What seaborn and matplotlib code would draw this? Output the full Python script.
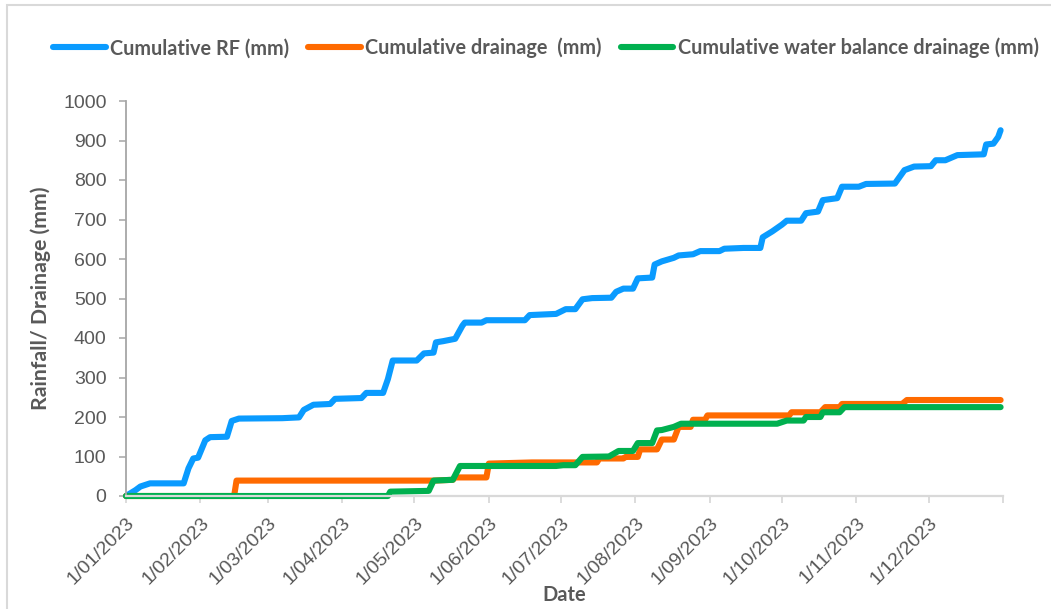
import numpy as np
import pandas as pd
import seaborn as sns
import matplotlib.pyplot as plt
from matplotlib.lines import Line2D
from matplotlib.patches import Rectangle

# day offsets from 1 Jan 2023 and cumulative values (mm)
rf_day = [0, 4, 6, 10, 24, 26, 28, 30, 33, 35, 42, 44, 47, 65, 72, 74, 78, 85, 87, 98,
          100, 107, 109, 111, 121, 124, 128, 129, 132, 137, 140, 141, 148, 150, 166, 168,
          179, 183, 187, 190, 194, 202, 204, 207, 211, 213, 219, 220, 223, 228, 230, 236,
          239, 247, 249, 257, 264, 265, 269, 273, 275, 281, 283, 288, 290, 296, 298, 305,
          308, 320, 322, 324, 328, 335, 337, 341, 346, 357, 358, 361, 363, 364]
rf_mm = [0, 15, 24, 32, 32, 70, 95, 97, 141, 149, 150, 190, 196, 197, 199, 218, 231, 233, 246, 248,
         261, 261, 296, 343, 343, 361, 363, 389, 392, 398, 431, 439, 439, 445, 445, 458,
         461, 473, 473, 498, 501, 502, 517, 525, 525, 551, 553, 586, 594, 603, 609, 612,
         620, 620, 626, 628, 628, 655, 670, 687, 697, 697, 716, 720, 749, 754, 783, 783,
         790, 791, 808, 825, 834, 835, 850, 850, 863, 865, 890, 892, 909, 926]

drain_day = [0, 45, 46, 128, 136, 137, 150, 151, 169, 196, 197, 207, 208, 213, 214, 221, 223,
             228, 230, 235, 236, 241, 242, 276, 277, 289, 291, 297, 298, 323, 325, 364]
drain_mm = [0, 0, 39, 39, 41, 47, 47, 82, 85, 85, 95, 95, 99, 99, 118, 118, 143,
            143, 175, 175, 193, 193, 204, 204, 212, 212, 225, 225, 233, 233, 243, 243]

wb_day = [0, 109, 110, 126, 128, 136, 139, 179, 182, 187, 190, 201, 205, 211, 213, 219, 221,
          223, 228, 231, 271, 275, 282, 283, 289, 290, 297, 299, 364]
wb_mm = [0, 0, 11, 13, 39, 41, 76, 76, 78, 78, 99, 100, 114, 114, 134, 134, 166,
         167, 175, 183, 183, 191, 191, 200, 200, 212, 212, 225, 225]

series_names = ['Cumulative RF (mm)', 'Cumulative drainage  (mm)',
                'Cumulative water balance drainage (mm)']
series_colors = ['#0A9BFF', '#FF6A00', '#00B04F']

tick_dates = pd.date_range('2023-01-01', '2024-01-01', freq='MS')
tick_labels = ['1/01/2023', '1/02/2023', '1/03/2023', '1/04/2023', '1/05/2023', '1/06/2023',
               '1/07/2023', '1/08/2023', '1/09/2023', '1/10/2023', '1/11/2023', '1/12/2023', '']

start = pd.Timestamp('2023-01-01')
frames = []
for name, days, vals in zip(series_names, [rf_day, drain_day, wb_day], [rf_mm, drain_mm, wb_mm]):
    frames.append(pd.DataFrame({
        'date': start + pd.to_timedelta(days, unit='D'),
        'mm': vals,
        'series': name,
    }))
df = pd.concat(frames, ignore_index=True)

sns.set_theme(style='white')
plt.rcParams['font.family'] = ['Liberation Sans', 'DejaVu Sans']

fig = plt.figure(figsize=(10.51, 6.09), dpi=100)
ax = fig.add_axes([126 / 1051, 1 - 496 / 609, (1003 - 126) / 1051, (496 - 101) / 609])

sns.lineplot(data=df, x='date', y='mm', hue='series', hue_order=series_names,
             palette=dict(zip(series_names, series_colors)), estimator=None, sort=False,
             linewidth=4.4, legend=False, ax=ax)
for ln in ax.lines:
    ln.set_solid_capstyle('round')
    ln.set_solid_joinstyle('round')
    ln.set_clip_on(False)

ax.set_xlim(tick_dates[0], tick_dates[-1])
ax.set_ylim(0, 1000)
ax.set_yticks(np.arange(0, 1001, 100))
ax.set_xticks(tick_dates)
ax.set_xticklabels(tick_labels, rotation=45, ha='right', va='top', rotation_mode='anchor')

for s in ['top', 'right']:
    ax.spines[s].set_visible(False)
ax.spines['left'].set_color('#A6A6A6')
ax.spines['left'].set_linewidth(1.3)
ax.spines['bottom'].set_color('#D9D9D9')
ax.spines['bottom'].set_linewidth(1.6)
ax.tick_params(axis='y', left=True, length=5, width=1.1, color='#A6A6A6', pad=9,
               labelsize=14, labelcolor='#595959')
ax.tick_params(axis='x', bottom=True, length=5, width=1.3, color='#D9D9D9', pad=8,
               labelsize=14, labelcolor='#595959')

lab_font = ['Lato', 'DejaVu Sans']
ax.set_ylabel('Rainfall/ Drainage (mm)', fontsize=15.3, fontweight='bold', color='#595959',
              family=lab_font)
ax.yaxis.set_label_coords(-(126 - 41) / 877, 0.5)
ax.yaxis.label.set_va('center')
ax.set_xlabel('Date', fontsize=14.5, fontweight='bold', color='#595959', family=lab_font)
ax.xaxis.set_label_coords(0.5, 1 - (595 - 101) / 395)
ax.xaxis.label.set_va('center')

handles = [Line2D([], [], color=c, lw=4.4, solid_capstyle='round') for c in series_colors]
fs = 14.3
leg = fig.legend(handles, series_names, loc='center', bbox_to_anchor=(546 / 1051, 1 - 48 / 609),
                 ncol=3, frameon=False, handlelength=38.0 / fs, handletextpad=3.2 / fs,
                 columnspacing=13.5 / fs, borderaxespad=0,
                 prop={'family': lab_font, 'weight': 'bold', 'size': fs})
for t in leg.get_texts():
    t.set_color('#595959')

fig.add_artist(Rectangle((7 / 1051, -0.02), 1.05, 1.02 - 5 / 609, transform=fig.transFigure,
                         fill=False, ec='#D9D9D9', lw=1.5))

fig.savefig('out.png', dpi=100)
